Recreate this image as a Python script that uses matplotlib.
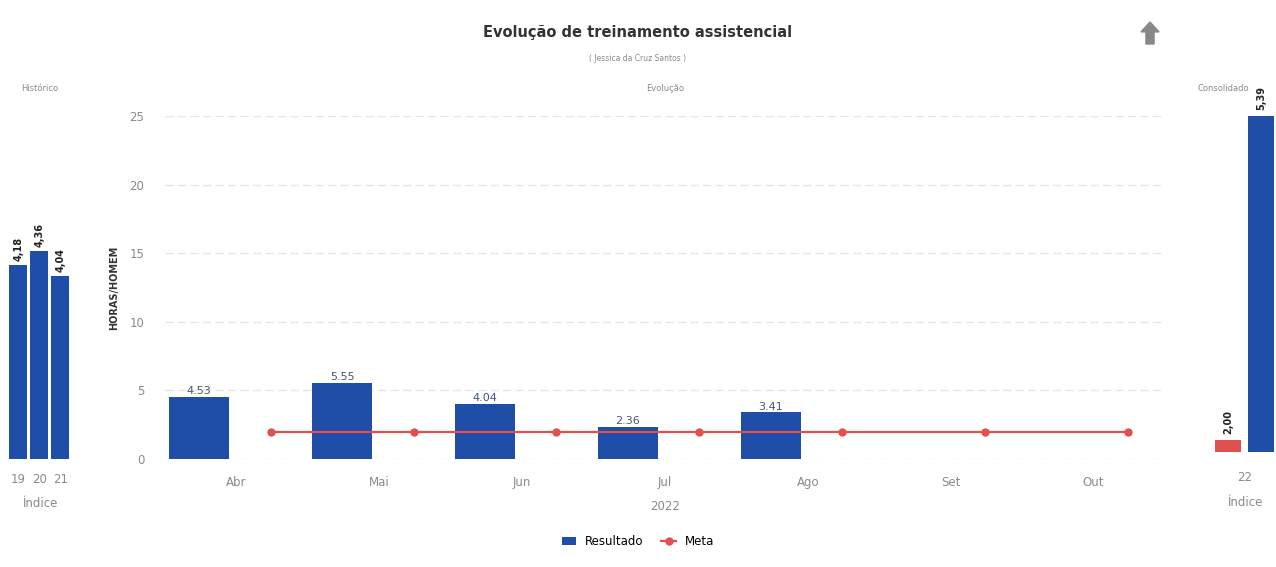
import matplotlib.pyplot as plt
from matplotlib.patches import Polygon

meses = ["Abr", "Mai", "Jun", "Jul", "Ago", "Set", "Out"]
resultado = [4.53, 5.55, 4.04, 2.36, 3.41]
meta = [2.0, 2.0, 2.0, 2.0, 2.0, 2.0, 2.0]

hist_anos = ["19", "20", "21"]
hist_valores = [4.18, 4.36, 4.04]

cons_ano = "22"
cons_meta = 2.00
cons_resultado = 5.39

AZUL = "#1f4ea8"
VERMELHO = "#e05050"
CINZA = "#8a8a8a"

fig = plt.figure(figsize=(12.76, 5.67), dpi=100)
fig.patch.set_facecolor("white")

# painel principal
ax = fig.add_axes([0.1293, 0.1905, 0.7837, 0.6049])
xs = list(range(len(meses)))
barras = ax.bar([i - 0.26 for i in range(len(resultado))], resultado, width=0.42,
                color=AZUL, zorder=2, label="Resultado")
for i, v in enumerate(resultado):
    ax.text(i - 0.26, v + 0.05, f"{v:.2f}", ha="center", va="bottom",
            fontsize=8, color="#44557a", zorder=4)
linha, = ax.plot([i + 0.24 for i in range(len(meta))], meta, color=VERMELHO, lw=1.6,
                 marker="o", ms=5, zorder=3, label="Meta")
ax.set_xlim(-0.5, 6.5)
ax.set_ylim(0, 25)
ax.set_yticks([0, 5, 10, 15, 20, 25])
ax.set_xticks(xs)
ax.set_xticklabels(meses)
ax.tick_params(length=0, labelsize=8.5, colors=CINZA, pad=12)
ax.tick_params(axis="y", pad=15)
ax.grid(axis="y", color="#e6e6e6", ls=(0, (6, 3)), lw=1)
for s in ax.spines.values():
    s.set_visible(False)
ax.set_xlabel("2022", fontsize=8.5, color=CINZA, labelpad=8)
ax.set_ylabel("HORAS/HOMEM", fontsize=7, fontweight="bold", color="#333333")
ax.yaxis.set_label_coords(-0.046, 0.5)
ax.set_title("Evolução", fontsize=6, color=CINZA, pad=18)

# historico
axh = fig.add_axes([0.006, 0.1905, 0.0496, 0.6049])
axh.bar(range(len(hist_anos)), hist_valores, width=0.85, color=AZUL)
for i, v in enumerate(hist_valores):
    axh.text(i, v + 0.05, f"{v:.2f}".replace(".", ","), rotation=90, ha="center",
             va="bottom", fontsize=7, fontweight="bold", color="#222222")
axh.set_xlim(-0.5, 2.5)
axh.set_ylim(1.69, 6.1)
axh.set_yticks([])
axh.set_xticks(range(len(hist_anos)))
axh.set_xticklabels(hist_anos)
axh.tick_params(length=0, labelsize=8.5, colors=CINZA, pad=10)
for s in axh.spines.values():
    s.set_visible(False)
axh.set_xlabel("Índice", fontsize=8.5, color=CINZA, labelpad=8)
axh.set_title("Histórico", fontsize=6, color=CINZA, pad=18)

# consolidado
axc = fig.add_axes([0.9506, 0.2028, 0.0494, 0.5926])
axc.bar([-0.29, 0.29], [cons_meta, cons_resultado], width=0.46,
        color=[VERMELHO, AZUL])
axc.text(-0.29, cons_meta + 0.06, f"{cons_meta:.2f}".replace(".", ","),
         rotation=90, ha="center", va="bottom", fontsize=7, fontweight="bold", color="#222222")
axc.text(0.29, cons_resultado + 0.06, f"{cons_resultado:.2f}".replace(".", ","),
         rotation=90, ha="center", va="bottom", fontsize=7, fontweight="bold",
         color="#222222", clip_on=False)
axc.set_xlim(-0.55, 0.55)
axc.set_ylim(1.874, cons_resultado)
axc.set_yticks([])
axc.set_xticks([0])
axc.set_xticklabels([cons_ano])
axc.tick_params(length=0, labelsize=8.5, colors=CINZA, pad=14)
for s in axc.spines.values():
    s.set_visible(False)
axc.set_xlabel("Índice", fontsize=8.5, color=CINZA, labelpad=8)
axc.set_title("Consolidado", fontsize=6, color=CINZA, pad=18, x=0.17)

# titulos
fig.text(0.5, 0.943, "Evolução de treinamento assistencial", ha="center", va="center",
         fontsize=10.5, fontweight="bold", color="#333333")
fig.text(0.5, 0.897, "( Jessica da Cruz Santos )", ha="center", va="center",
         fontsize=5.5, color=CINZA)

# seta
cx, cy = 1150 / 1276, 1 - 33 / 567
w, h = 9 / 1276, 11 / 567
seta = Polygon([(cx, cy + h), (cx + w, cy + 0.1 * h), (cx + 0.45 * w, cy + 0.1 * h),
                (cx + 0.45 * w, cy - h), (cx - 0.45 * w, cy - h),
                (cx - 0.45 * w, cy + 0.1 * h), (cx - w, cy + 0.1 * h)],
               closed=True, transform=fig.transFigure, color="#888888")
fig.patches.append(seta)

# legenda
fig.legend([barras, linha], ["Resultado", "Meta"], loc="center",
           bbox_to_anchor=(0.5, 0.045), ncol=2, frameon=False,
           fontsize=8.5, handlelength=1.2, columnspacing=1.5)

fig.savefig("out.png", dpi=100)
